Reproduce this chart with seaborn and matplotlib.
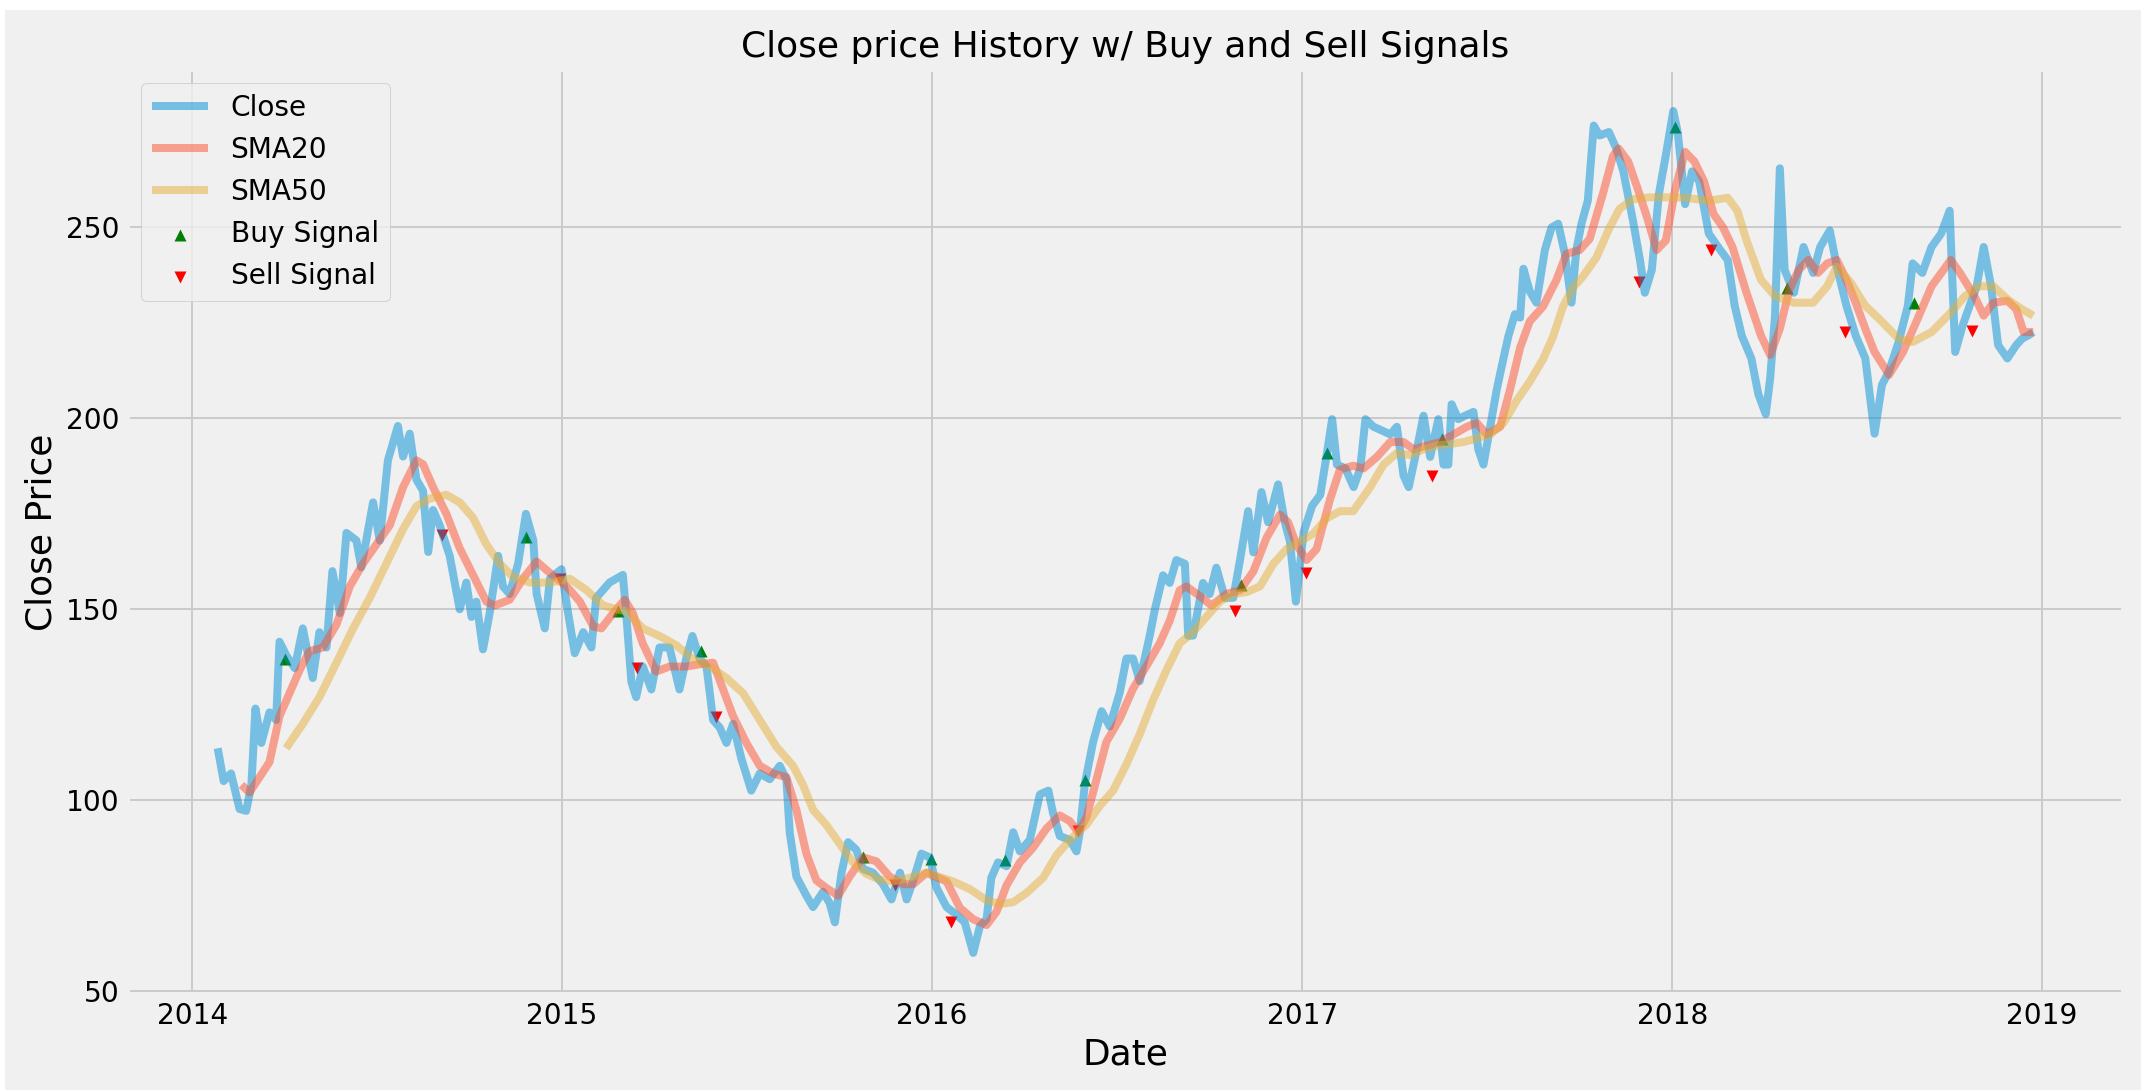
import pandas as pd
import seaborn as sns
import matplotlib.pyplot as plt
from matplotlib.patches import Rectangle

# valeurs (annee decimale -> prix)
close_years = [
    2014.069, 2014.085, 2014.105, 2014.128, 2014.146, 2014.160, 2014.171, 2014.187, 2014.209, 2014.227,
    2014.236, 2014.254, 2014.277, 2014.299, 2014.326, 2014.344, 2014.363, 2014.379, 2014.399, 2014.417,
    2014.444, 2014.457, 2014.489, 2014.507, 2014.529, 2014.556, 2014.570, 2014.588, 2014.606, 2014.624,
    2014.638, 2014.651, 2014.669, 2014.696, 2014.723, 2014.741, 2014.755, 2014.768, 2014.786, 2014.804,
    2014.827, 2014.840, 2014.858, 2014.881, 2014.902, 2014.922, 2014.931, 2014.953, 2014.967, 2014.998,
    2015.016, 2015.034, 2015.057, 2015.079, 2015.092, 2015.128, 2015.164, 2015.173, 2015.187, 2015.200,
    2015.218, 2015.241, 2015.263, 2015.290, 2015.317, 2015.335, 2015.352, 2015.372, 2015.390, 2015.408,
    2015.426, 2015.444, 2015.462, 2015.484, 2015.511, 2015.534, 2015.561, 2015.588, 2015.606, 2015.615,
    2015.633, 2015.660, 2015.678, 2015.705, 2015.723, 2015.737, 2015.755, 2015.773, 2015.795, 2015.813,
    2015.840, 2015.867, 2015.890, 2015.913, 2015.931, 2015.949, 2015.971, 2015.994, 2016.012, 2016.039,
    2016.066, 2016.088, 2016.111, 2016.129, 2016.147, 2016.160, 2016.178, 2016.201, 2016.219, 2016.237,
    2016.264, 2016.291, 2016.314, 2016.327, 2016.345, 2016.372, 2016.390, 2016.399, 2016.413, 2016.435,
    2016.458, 2016.480, 2016.507, 2016.525, 2016.543, 2016.561, 2016.588, 2016.602, 2016.624, 2016.642,
    2016.660, 2016.683, 2016.692, 2016.705, 2016.732, 2016.750, 2016.768, 2016.791, 2016.814, 2016.832,
    2016.854, 2016.868, 2016.890, 2016.908, 2016.935, 2016.953, 2016.967, 2016.983, 2017.004, 2017.027,
    2017.049, 2017.067, 2017.081, 2017.094, 2017.117, 2017.139, 2017.157, 2017.171, 2017.193, 2017.216,
    2017.238, 2017.256, 2017.274, 2017.288, 2017.310, 2017.328, 2017.346, 2017.368, 2017.382, 2017.395,
    2017.404, 2017.422, 2017.440, 2017.463, 2017.476, 2017.490, 2017.508, 2017.526, 2017.539, 2017.557,
    2017.575, 2017.589, 2017.598, 2017.615, 2017.633, 2017.656, 2017.674, 2017.692, 2017.710, 2017.728,
    2017.741, 2017.755, 2017.772, 2017.788, 2017.804, 2017.829, 2017.849, 2017.868, 2017.894, 2017.913,
    2017.926, 2017.945, 2017.964, 2017.983, 2018.003, 2018.015, 2018.035, 2018.054, 2018.073, 2018.099,
    2018.124, 2018.150, 2018.169, 2018.188, 2018.214, 2018.233, 2018.253, 2018.265, 2018.278, 2018.291,
    2018.304, 2018.329, 2018.355, 2018.381, 2018.400, 2018.426, 2018.445, 2018.471, 2018.496, 2018.522,
    2018.547, 2018.567, 2018.586, 2018.612, 2018.637, 2018.650, 2018.676, 2018.701, 2018.727, 2018.750,
    2018.765, 2018.785, 2018.804, 2018.823, 2018.842, 2018.862, 2018.881, 2018.906, 2018.930, 2018.946,
    2018.962, 2018.976,
]
close_values = [
    113.6, 105, 107, 97.7, 97.2, 104, 124, 115, 123, 121,
    141.5, 138, 134.6, 145, 132, 144, 140, 160, 149, 170,
    168, 161, 178, 168, 189, 198, 190, 196, 184, 181,
    165, 176, 172, 164, 150, 157, 148, 152, 139.5, 149,
    164, 156, 154, 162, 175, 168, 154, 145, 158, 160.5,
    149, 138.5, 144, 140, 153, 157, 159, 149, 131, 127,
    135, 129, 140, 140, 129, 137, 143, 137, 135, 121,
    119, 115, 120, 111, 102.5, 107, 105.5, 109, 105.5, 91.5,
    80, 75, 72, 76, 73, 68, 81, 89, 87, 82,
    81, 78, 74, 81, 74, 79, 86, 85, 77, 72,
    70, 68, 60, 67, 68.8, 79.7, 83.7, 82.7, 91.6, 86.6,
    89.6, 101.5, 102.5, 96.5, 90.6, 89.6, 86.6, 91.6, 104.5, 115.3,
    123.3, 119.3, 128.2, 137.1, 137.1, 131.2, 143.1, 150, 158.9, 156.9,
    162.9, 161.9, 143.1, 143.1, 156.9, 154, 160.9, 153, 153, 162.9,
    175.7, 164.9, 180.7, 172.8, 182.7, 172.8, 167.8, 152, 170.2, 177.1,
    180, 190.9, 199.8, 187.9, 186.9, 182, 186.9, 199.8, 197.8, 196.8,
    195.8, 197.8, 185, 182, 191.9, 200.7, 189.9, 199.8, 187.9, 187.9,
    203.7, 199.8, 200.7, 201.7, 191.9, 187.9, 197.8, 207.6, 213.5, 221.4,
    227.3, 226.4, 239.2, 233.3, 230.3, 244.1, 250, 251, 243.1, 230.3,
    244.1, 251, 257, 276.7, 274.1, 275, 270.7, 264.7, 251.8, 241.5,
    232.9, 238.9, 258.7, 269, 280.5, 275, 256.1, 264.7, 262.1, 248.4,
    244.9, 241.5, 229.5, 221.7, 215.7, 206.3, 201.1, 210.6, 226.9, 265.5,
    238.9, 232.9, 244.9, 238.1, 244.9, 249.2, 239.8, 229.5, 221.7, 215.7,
    196, 208.8, 212.3, 220, 229.5, 240.6, 238.1, 244.9, 248.4, 254.4,
    217.4, 224.3, 229.5, 234.6, 244.9, 234.6, 219.2, 215.7, 219.2, 220.9,
    221.7, 222.6,
]

sma20_years = [
    2014.133, 2014.155, 2014.182, 2014.209, 2014.236, 2014.263, 2014.290, 2014.317, 2014.353, 2014.390,
    2014.426, 2014.462, 2014.498, 2014.534, 2014.570, 2014.606, 2014.624, 2014.651, 2014.687, 2014.723,
    2014.759, 2014.795, 2014.818, 2014.858, 2014.894, 2014.931, 2014.967, 2015.012, 2015.048, 2015.084,
    2015.106, 2015.138, 2015.169, 2015.191, 2015.218, 2015.254, 2015.290, 2015.335, 2015.372, 2015.408,
    2015.435, 2015.462, 2015.498, 2015.534, 2015.570, 2015.606, 2015.633, 2015.660, 2015.687, 2015.714,
    2015.746, 2015.777, 2015.813, 2015.849, 2015.885, 2015.922, 2015.949, 2015.985, 2016.039, 2016.075,
    2016.111, 2016.147, 2016.174, 2016.201, 2016.237, 2016.273, 2016.309, 2016.345, 2016.372, 2016.395,
    2016.417, 2016.444, 2016.471, 2016.507, 2016.543, 2016.579, 2016.615, 2016.642, 2016.669, 2016.687,
    2016.723, 2016.755, 2016.795, 2016.832, 2016.868, 2016.904, 2016.940, 2016.962, 2016.985, 2017.012,
    2017.039, 2017.075, 2017.102, 2017.138, 2017.166, 2017.202, 2017.238, 2017.274, 2017.301, 2017.337,
    2017.373, 2017.409, 2017.445, 2017.472, 2017.499, 2017.535, 2017.562, 2017.589, 2017.615, 2017.651,
    2017.687, 2017.714, 2017.750, 2017.777, 2017.813, 2017.840, 2017.855, 2017.881, 2017.906, 2017.932,
    2017.958, 2017.983, 2018.009, 2018.035, 2018.060, 2018.086, 2018.112, 2018.137, 2018.163, 2018.201,
    2018.240, 2018.265, 2018.291, 2018.317, 2018.342, 2018.368, 2018.394, 2018.419, 2018.445, 2018.471,
    2018.496, 2018.522, 2018.547, 2018.586, 2018.624, 2018.663, 2018.701, 2018.753, 2018.778, 2018.817,
    2018.842, 2018.868, 2018.906, 2018.930, 2018.950, 2018.976,
]
sma20_values = [
    104, 102, 106, 110, 122, 128, 134, 139, 140, 146,
    156, 162, 167, 172, 182, 189, 188, 182, 175, 166,
    159, 152, 151, 152.5, 158, 162.5, 159.5, 156, 152, 145.5,
    145, 149, 152.5, 149, 141, 133.7, 135, 135, 135.6, 136,
    129, 122, 115, 109, 107, 106, 97.5, 86, 79, 77,
    75, 80, 85, 84, 80, 78, 78, 81, 78.7, 71.8,
    68.8, 67.3, 70.8, 77.7, 83.7, 87.6, 92.6, 96, 94.5, 91.6,
    95.5, 105.4, 115.3, 121.3, 129.2, 135.1, 141.1, 147, 155, 156,
    153.5, 151, 154, 155, 159.9, 168.8, 174.8, 172.8, 166.8, 162.9,
    165.8, 178.7, 186.6, 187.6, 186.9, 189.9, 193.8, 193.8, 191.9, 192.9,
    193.8, 195.8, 197.8, 198.8, 195.8, 197.8, 207.6, 218.5, 225.4, 229.3,
    236.2, 243.1, 244.1, 247, 258.9, 268.7, 270.7, 267.3, 260.4, 252.7,
    244.1, 246.6, 260.4, 269.8, 267.3, 262.1, 253.5, 250.1, 244.9, 232.9,
    221.7, 216.6, 223.5, 233.8, 238.9, 241.5, 238.1, 240.6, 241.5, 236.3,
    230.3, 223.5, 217.4, 211.4, 217.4, 226, 234.6, 241.5, 238.1, 232,
    226.9, 230.3, 230.8, 228.6, 222.6, 222.6,
]

sma50_years = [
    2014.254, 2014.299, 2014.344, 2014.390, 2014.435, 2014.480, 2014.525, 2014.570, 2014.606, 2014.642,
    2014.687, 2014.723, 2014.759, 2014.795, 2014.831, 2014.867, 2014.913, 2014.967, 2015.021, 2015.066,
    2015.111, 2015.147, 2015.173, 2015.218, 2015.263, 2015.308, 2015.353, 2015.399, 2015.444, 2015.489,
    2015.534, 2015.579, 2015.624, 2015.651, 2015.678, 2015.714, 2015.750, 2015.786, 2015.822, 2015.858,
    2015.894, 2015.940, 2015.985, 2016.057, 2016.102, 2016.147, 2016.183, 2016.219, 2016.255, 2016.300,
    2016.336, 2016.372, 2016.417, 2016.453, 2016.489, 2016.525, 2016.561, 2016.597, 2016.634, 2016.669,
    2016.705, 2016.741, 2016.777, 2016.814, 2016.850, 2016.886, 2016.922, 2016.958, 2016.994, 2017.030,
    2017.066, 2017.102, 2017.138, 2017.184, 2017.220, 2017.256, 2017.292, 2017.328, 2017.364, 2017.400,
    2017.436, 2017.472, 2017.508, 2017.544, 2017.580, 2017.615, 2017.651, 2017.678, 2017.705, 2017.732,
    2017.759, 2017.795, 2017.831, 2017.858, 2017.894, 2017.939, 2017.984, 2018.035, 2018.099, 2018.150,
    2018.176, 2018.201, 2018.240, 2018.278, 2018.329, 2018.381, 2018.419, 2018.445, 2018.483, 2018.522,
    2018.560, 2018.612, 2018.650, 2018.701, 2018.753, 2018.791, 2018.829, 2018.868, 2018.906, 2018.945,
    2018.976,
]
sma50_values = [
    113.6, 120, 127, 136, 145, 153, 162, 171, 177, 179,
    180, 178, 174, 167, 162, 158.5, 157, 157, 158, 155,
    151, 150, 149.5, 145, 143, 140.6, 137, 135, 132, 128,
    121, 114, 109, 104, 97.5, 93.5, 88.6, 83.7, 80.7, 79.2,
    78.7, 79.7, 81, 78.7, 76.7, 73.8, 72.8, 73.3, 75.7, 79.7,
    85.6, 89.6, 93.6, 98.5, 102.5, 109.4, 117.3, 126.2, 134.2, 141.1,
    144, 148, 152, 154, 154.5, 156, 161.9, 165.8, 167.8, 169.8,
    173.8, 175.7, 175.7, 182, 187.9, 190.9, 190.4, 191.9, 192.9, 193.3,
    193.8, 194.8, 195.8, 198.8, 204.7, 209.6, 215.5, 221.4, 229.3, 234.2,
    237.2, 242.1, 250, 254.9, 257.4, 257.9, 257.9, 257.8, 257, 257.8,
    254.4, 246.6, 236.3, 232, 230.3, 230.3, 234.6, 239.8, 235.5, 229.5,
    226, 220.9, 220, 222.6, 227.7, 232, 234.6, 234.6, 231.2, 228.6,
    226.9,
]

# signaux d'achat / vente
buy_years = [2014.252, 2014.902, 2015.150, 2015.376, 2015.812, 2015.998, 2016.197,
             2016.414, 2016.836, 2017.068, 2017.377, 2018.009, 2018.310, 2018.653]
buy_prices = [137, 169, 149.5, 139, 85, 84.5, 84.4,
              105.4, 156.4, 191, 194.5, 276.3, 234.2, 230.3]
sell_years = [2014.674, 2014.994, 2015.203, 2015.417, 2015.899, 2016.052, 2016.395,
              2016.818, 2017.010, 2017.350, 2017.910, 2018.105, 2018.468, 2018.810]
sell_prices = [169.4, 158, 134.7, 121.8, 77.7, 68, 92,
               149.5, 159.4, 185, 235.8, 244.1, 222.6, 223]


def to_dates(years):
    # annee decimale -> date
    years = pd.Series(years, dtype=float)
    return pd.Timestamp('2014-01-01') + pd.to_timedelta((years - 2014) * 365.25, unit='D')


df_close = pd.DataFrame({'Date': to_dates(close_years), 'Close': close_values})
df_sma20 = pd.DataFrame({'Date': to_dates(sma20_years), 'SMA20': sma20_values})
df_sma50 = pd.DataFrame({'Date': to_dates(sma50_years), 'SMA50': sma50_values})
df_buy = pd.DataFrame({'Date': to_dates(buy_years), 'Price': buy_prices})
df_sell = pd.DataFrame({'Date': to_dates(sell_years), 'Price': sell_prices})

plt.style.use('fivethirtyeight')
fig, ax = plt.subplots(figsize=(2144 / 144, 1091 / 144), dpi=144)
fig.patch.set_facecolor('white')
# fond gris avec une petite bordure blanche comme sur la capture
fig.add_artist(Rectangle((5 / 2144, 1 / 1091), 2136 / 2144, 1080 / 1091,
                         transform=fig.transFigure, facecolor='#f0f0f0',
                         edgecolor='none', zorder=-1))
fig.subplots_adjust(left=0.0592, right=0.9907, top=0.9368, bottom=0.088)

sns.lineplot(data=df_close, x='Date', y='Close', ax=ax, color='#008fd5',
             alpha=0.5, linewidth=4, label='Close', errorbar=None)
sns.lineplot(data=df_sma20, x='Date', y='SMA20', ax=ax, color='#fc4f30',
             alpha=0.5, linewidth=4, label='SMA20', errorbar=None)
sns.lineplot(data=df_sma50, x='Date', y='SMA50', ax=ax, color='#e5ae38',
             alpha=0.5, linewidth=4, label='SMA50', errorbar=None)
sns.scatterplot(data=df_buy, x='Date', y='Price', ax=ax, marker='^', color='green',
                s=36, linewidth=0, label='Buy Signal', zorder=1)
sns.scatterplot(data=df_sell, x='Date', y='Price', ax=ax, marker='v', color='red',
                s=36, linewidth=0, label='Sell Signal', zorder=1)

ax.set_title('Close price History w/ Buy and Sell Signals', fontsize=18)
ax.set_xlabel('Date', fontsize=18)
ax.set_ylabel('Close Price', fontsize=18)
ax.legend(loc='upper left')

fig.savefig('out.png', dpi=144, facecolor=fig.get_facecolor())
